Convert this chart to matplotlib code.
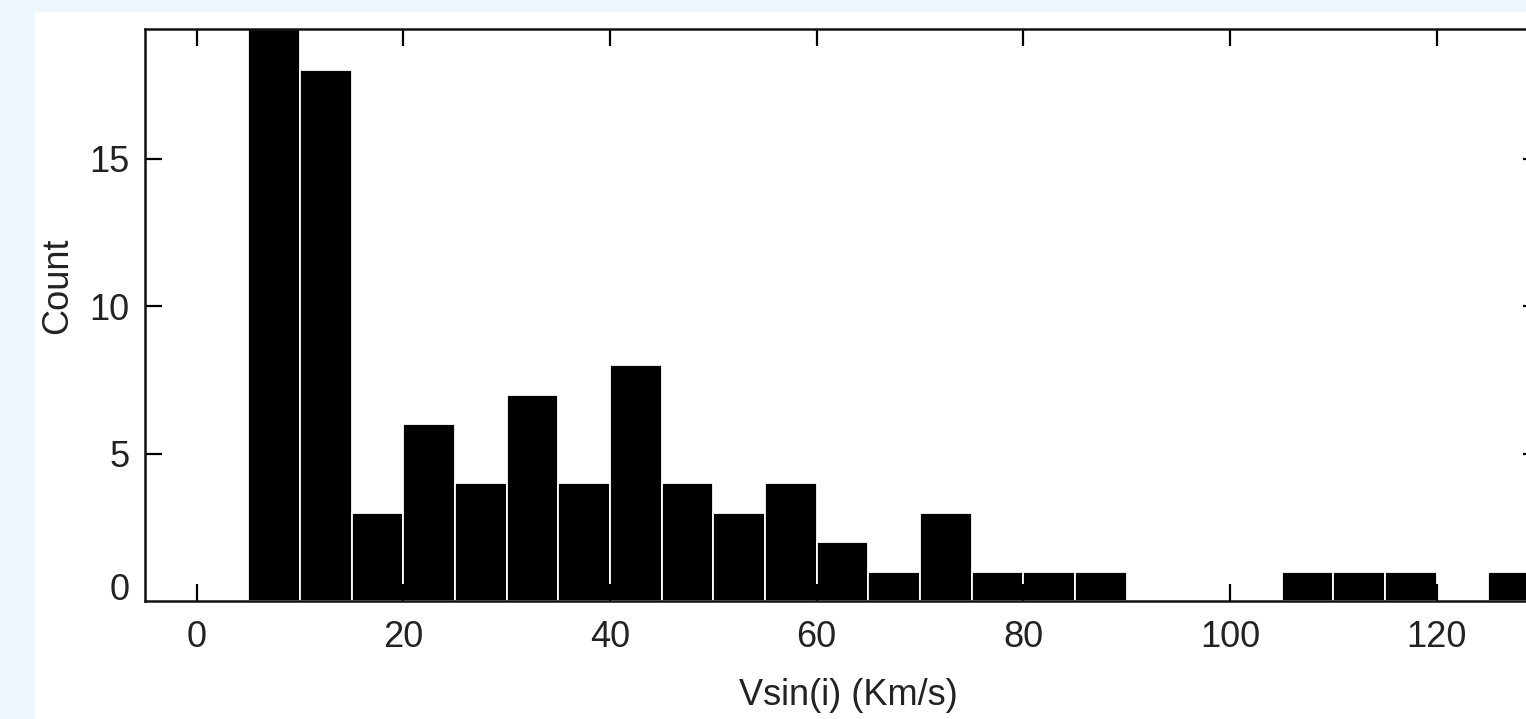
import matplotlib.pyplot as plt
from matplotlib.patches import Rectangle
from matplotlib.transforms import ScaledTranslation

# histogram of Vsin(i), 5 km/s bins
bin_left = [5, 10, 15, 20, 25, 30, 35, 40, 45, 50, 55, 60, 65, 70, 75, 80, 85,
            90, 95, 100, 105, 110, 115, 120, 125]
counts = [20, 18, 3, 6, 4, 7, 4, 8, 4, 3, 4, 2, 1, 3, 1, 1, 1,
          0, 0, 0, 1, 1, 1, 0, 1]
xticks = [0, 20, 40, 60, 80, 100, 120]
yticks = [0, 5, 10, 15]

plt.rcParams['font.family'] = ['Liberation Sans', 'DejaVu Sans']

W, H = 1526, 719
fig = plt.figure(figsize=(W / 100, H / 100), dpi=100, facecolor='#eef7fd')
# white page area (light blue strip at top and left)
fig.patches.append(Rectangle((35 / W, 0), 1, 1 - 12 / H, transform=fig.transFigure,
                             facecolor='white', edgecolor='none', zorder=-10))

ax = fig.add_axes([145 / W, 1 - 601 / H, (1540 - 145) / W, (601 - 29) / H])
ax.set_zorder(1)
ax.set_facecolor('white')

ax.bar(bin_left, counts, width=5, align='edge', color='black',
       edgecolor='white', linewidth=1.3)

ax.set_xlim(-5, 130)
ax.set_ylim(0, 19.4)
ax.set_xticks(xticks)
ax.set_yticks(yticks)

for s in ax.spines.values():
    s.set_linewidth(1.8)
    s.set_color('#111111')

ax.tick_params(direction='in', length=12, width=1.6, labelsize=26,
               labelcolor='#222222', top=True, right=True)
ax.tick_params(axis='x', pad=14)
ax.tick_params(axis='y', pad=11)

# y tick at 0 lies on the axis itself
t0 = ax.yaxis.get_major_ticks()[0]
t0.tick1line.set_visible(False)
t0.tick2line.set_visible(False)

# the "0" label sits a little above the axis, as in the original
lab0 = ax.get_yticklabels()[0]
lab0.set_transform(lab0.get_transform() + ScaledTranslation(0, 0.15, fig.dpi_scale_trans))

ax.set_xlabel('Vsin(i) (Km/s)', fontsize=26, color='#222222')
ax.set_ylabel('Count', fontsize=26, color='#222222')
ax.xaxis.set_label_coords(0.504, -0.135)
ax.yaxis.set_label_coords(-0.050, 0.552)

fig.savefig('out.png', dpi=100, facecolor=fig.get_facecolor())
